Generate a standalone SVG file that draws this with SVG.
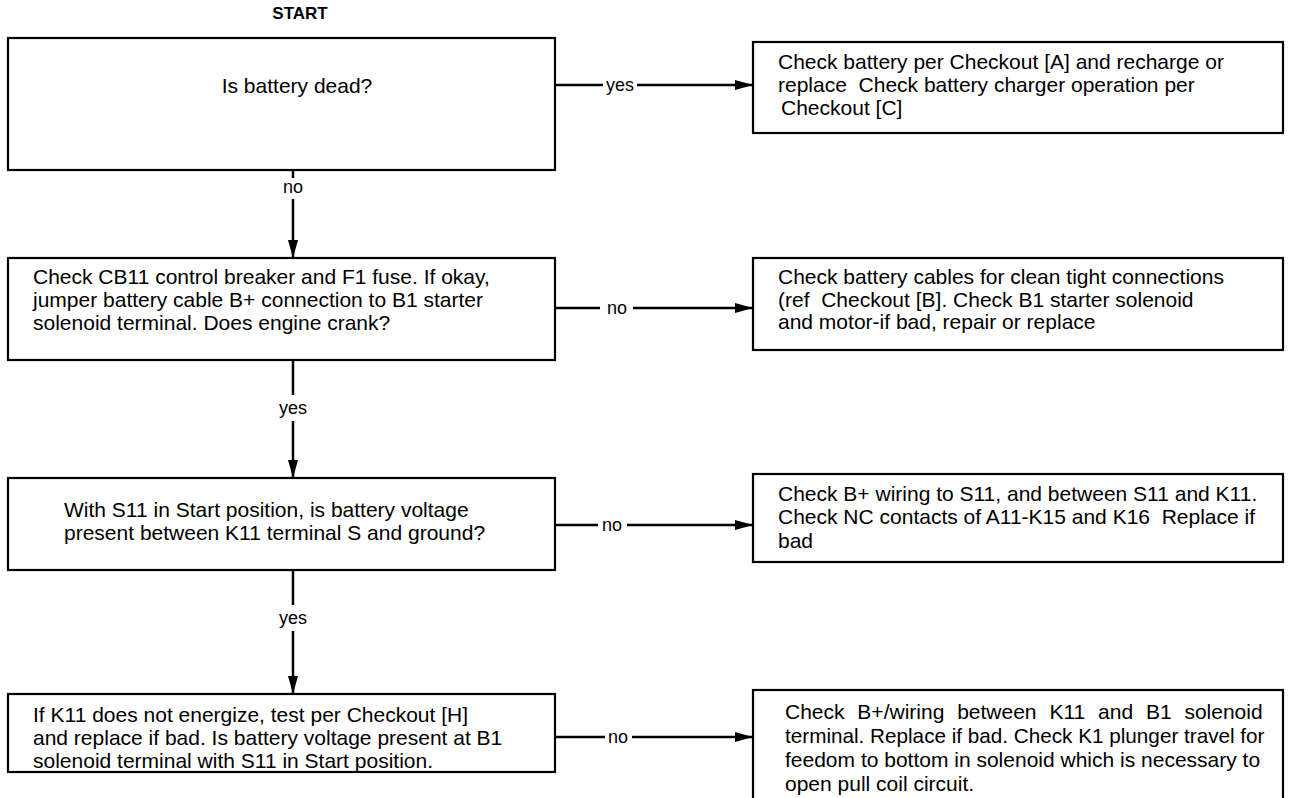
<svg xmlns="http://www.w3.org/2000/svg" width="1298" height="798" viewBox="0 0 1298 798">
<style>
.box{fill:#fff;stroke:#000;stroke-width:2.2}
.t{font-family:"Liberation Sans",Arial,sans-serif;font-size:21px;fill:#000}
.lbl{font-family:"Liberation Sans",Arial,sans-serif;font-size:18px;fill:#000}
.ln{stroke:#000;stroke-width:2.5;fill:none}
</style>
<defs>
<marker id="ah" viewBox="0 0 18 10" refX="18" refY="5" markerWidth="18" markerHeight="10" markerUnits="userSpaceOnUse" orient="auto">
<path d="M0,0 L18,5 L0,10 Z" fill="#000"/>
</marker>
</defs>
<rect width="1298" height="798" fill="#fff"/>
<text x="300" y="19" class="t" style="font-weight:bold;font-size:17px" text-anchor="middle">START</text>

<g id="n1">
<rect class="box" x="8" y="38" width="547" height="132"/>
<text class="t" x="297" y="93" text-anchor="middle">Is battery dead?</text>
</g>
<g id="r1">
<rect class="box" x="753" y="42" width="530" height="91"/>
<text class="t" x="778" y="69">Check battery per Checkout [A] and recharge or</text>
<text class="t" x="778" y="92" xml:space="preserve">replace  Check battery charger operation per</text>
<text class="t" x="781" y="115">Checkout [C]</text>
</g>
<g id="n2">
<rect class="box" x="8" y="258" width="547" height="102"/>
<text class="t" x="33" y="284">Check CB11 control breaker and F1 fuse. If okay,</text>
<text class="t" x="33" y="307">jumper battery cable B+ connection to B1 starter</text>
<text class="t" x="33" y="330">solenoid terminal. Does engine crank?</text>
</g>
<g id="r2">
<rect class="box" x="753" y="258" width="530" height="92"/>
<text class="t" x="778" y="284">Check battery cables for clean tight connections</text>
<text class="t" x="778" y="307" xml:space="preserve">(ref  Checkout [B]. Check B1 starter solenoid</text>
<text class="t" x="778" y="329">and motor-if bad, repair or replace</text>
</g>
<g id="n3">
<rect class="box" x="8" y="478" width="547" height="92"/>
<text class="t" x="64" y="517">With S11 in Start position, is battery voltage</text>
<text class="t" x="64" y="540">present between K11 terminal S and ground?</text>
</g>
<g id="r3">
<rect class="box" x="753" y="474" width="530" height="88"/>
<text class="t" x="778" y="501">Check B+ wiring to S11, and between S11 and K11.</text>
<text class="t" x="778" y="524" xml:space="preserve">Check NC contacts of A11-K15 and K16  Replace if</text>
<text class="t" x="778" y="548">bad</text>
</g>
<g id="n4">
<rect class="box" x="8" y="694" width="547" height="78"/>
<text class="t" x="33" y="722">If K11 does not energize, test per Checkout [H]</text>
<text class="t" x="33" y="745">and replace if bad. Is battery voltage present at B1</text>
<text class="t" x="33" y="768">solenoid terminal with S11 in Start position.</text>
</g>
<g id="r4">
<rect class="box" x="753" y="690" width="530" height="120"/>
<text class="t" x="785" y="719" word-spacing="7">Check B+/wiring between K11 and B1 solenoid</text>
<text class="t" x="785" y="743" style="font-size:20.7px">terminal. Replace if bad. Check K1 plunger travel for</text>
<text class="t" x="785" y="767">feedom to bottom in solenoid which is necessary to</text>
<text class="t" x="785" y="791">open pull coil circuit.</text>
</g>

<g id="connectors">
<line class="ln" x1="555" y1="85" x2="603" y2="85"/>
<text class="lbl" x="620" y="91" text-anchor="middle">yes</text>
<line class="ln" x1="637" y1="85" x2="753" y2="85" marker-end="url(#ah)"/>

<line class="ln" x1="293" y1="170" x2="293" y2="178"/>
<text class="lbl" x="293" y="193" text-anchor="middle">no</text>
<line class="ln" x1="293" y1="199" x2="293" y2="258" marker-end="url(#ah)"/>

<line class="ln" x1="555" y1="308" x2="600" y2="308"/>
<text class="lbl" x="617" y="314" text-anchor="middle">no</text>
<line class="ln" x1="633" y1="308" x2="753" y2="308" marker-end="url(#ah)"/>

<line class="ln" x1="293" y1="360" x2="293" y2="395"/>
<text class="lbl" x="293" y="414" text-anchor="middle">yes</text>
<line class="ln" x1="293" y1="421" x2="293" y2="478" marker-end="url(#ah)"/>

<line class="ln" x1="555" y1="525" x2="598" y2="525"/>
<text class="lbl" x="612" y="531" text-anchor="middle">no</text>
<line class="ln" x1="627" y1="525" x2="753" y2="525" marker-end="url(#ah)"/>

<line class="ln" x1="293" y1="570" x2="293" y2="605"/>
<text class="lbl" x="293" y="624" text-anchor="middle">yes</text>
<line class="ln" x1="293" y1="631" x2="293" y2="694" marker-end="url(#ah)"/>

<line class="ln" x1="555" y1="737" x2="605" y2="737"/>
<text class="lbl" x="618" y="743" text-anchor="middle">no</text>
<line class="ln" x1="632" y1="737" x2="753" y2="737" marker-end="url(#ah)"/>
</g>
</svg>
